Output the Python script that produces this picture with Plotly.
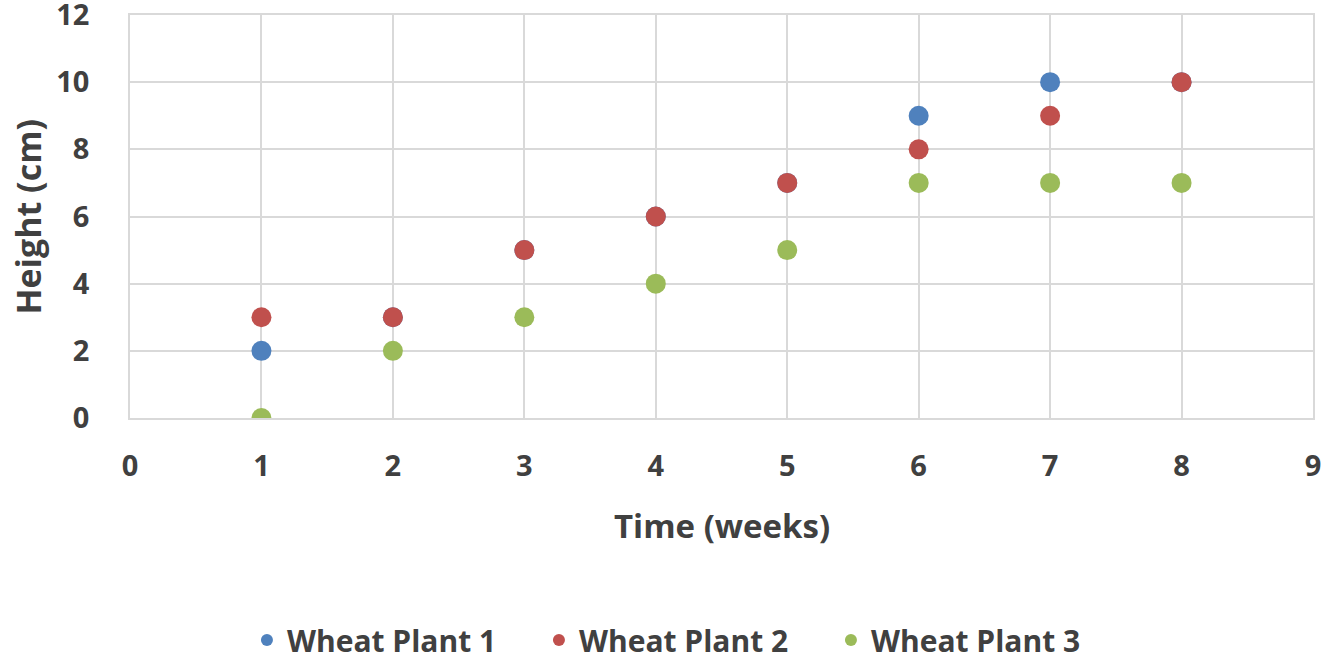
import plotly.graph_objects as go

# Weekly heights of three wheat plants
weeks = [1, 2, 3, 4, 5, 6, 7, 8]
plant1 = [2, 3, 5, 6, 7, 9, 10, 10]
plant2 = [3, 3, 5, 6, 7, 8, 9, 10]
plant3 = [0, 2, 3, 4, 5, 7, 7, 7]

series_names = ["Wheat Plant 1", "Wheat Plant 2", "Wheat Plant 3"]
series_colors = ["#4F81BD", "#C0504D", "#9BBB59"]

FONT = "Open Sans"
TEXT = "#404040"
GRID = "#D9D9D9"

fig = go.Figure()
for name, ys, color in zip(series_names, [plant1, plant2, plant3], series_colors):
    fig.add_trace(go.Scatter(
        x=weeks, y=ys, mode="markers", name=name,
        marker=dict(size=20, color=color, line=dict(width=0)),
    ))

axis_common = dict(
    automargin=False,
    showgrid=True, gridcolor=GRID, gridwidth=1.5,
    showline=True, linecolor=GRID, linewidth=1.5, mirror=True,
    zeroline=False, ticks="", ticklabeloverflow="allow",
    tickfont=dict(family=FONT, size=29, color=TEXT, weight="bold"),
)

fig.update_layout(
    width=1321, height=664,
    margin=dict(l=130, r=8, t=15, b=246),
    paper_bgcolor="white", plot_bgcolor="white",
    font=dict(family=FONT, color=TEXT, size=22),
    showlegend=True,
    legend=dict(
        orientation="h", xref="container", yref="container",
        x=0.5185, xanchor="center", y=0.036, yanchor="middle",
        font=dict(family=FONT, size=30, color=TEXT, weight="bold"),
        itemsizing="constant", itemwidth=30, tracegroupgap=0,
        entrywidth=247, entrywidthmode="pixels",
    ),
    xaxis=dict(range=[0, 9], dtick=1, tick0=0, ticklabelstandoff=21,
               **axis_common),
    yaxis=dict(range=[0, 12], dtick=2, tick0=0, ticklabelstandoff=33,
               **axis_common),
    annotations=[
        dict(text="Time (weeks)", xref="paper", yref="paper",
             x=(722 - 130) / 1183, y=-(525 - 418) / 403,
             xanchor="center", yanchor="middle", showarrow=False,
             font=dict(family=FONT, size=33, color=TEXT, weight="bold")),
        dict(text="Height (cm)", xref="paper", yref="paper",
             x=(27 - 130) / 1183, y=0.5, xanchor="center", yanchor="middle",
             textangle=-90, showarrow=False,
             font=dict(family=FONT, size=34, color=TEXT, weight="bold")),
    ],
)

fig.write_html("out.html")
